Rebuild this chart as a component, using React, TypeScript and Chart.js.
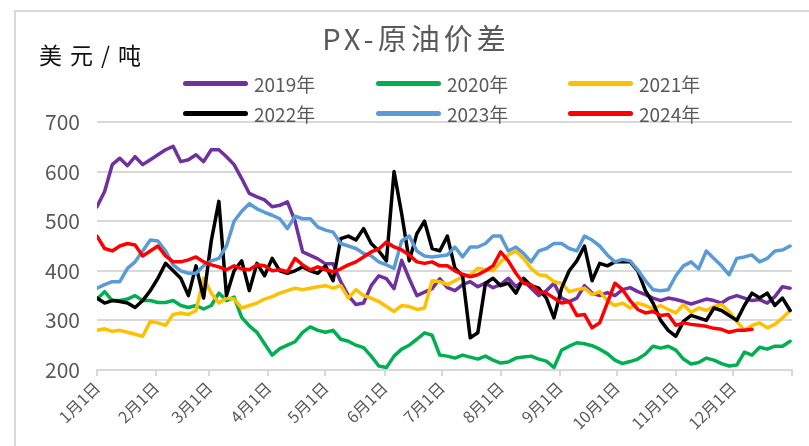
import React, { useEffect, useRef } from "react";
import { Chart, registerables } from "chart.js";

Chart.register(...registerables);

const FONT = "'Noto Sans CJK SC', 'Noto Sans', sans-serif";

const titleText = "PX-原油价差";
const unitText = "美元/吨";

const seriesNames = ["2019年", "2020年", "2021年", "2022年", "2023年", "2024年"];
const seriesColors = ["#7030A0", "#00B050", "#FFC000", "#000000", "#5B9BD5", "#FF0000"];

// x grid: day of year (every 4 days)
const sampleDays = Array.from({ length: 92 }, (_, i) => i * 4);

const monthTickDays = [0, 31, 59, 90, 120, 151, 181, 212, 243, 273, 304, 334, 365];
const monthTickLabels = ["1月1日", "2月1日", "3月1日", "4月1日", "5月1日", "6月1日", "7月1日", "8月1日", "9月1日", "10月1日", "11月1日", "12月1日", ""];

const yMin = 200;
const yMax = 700;
const yStep = 100;

const values2019 = [
  529, 560, 614, 627, 612, 630, 614, 624, 634, 644, 651, 620, 624, 634, 620,
  644, 644, 630, 614, 586, 556, 549, 543, 529, 532, 539, 500, 438, 431, 424, 414,
  414, 378, 350, 332, 335, 370, 390, 384, 364, 421, 384, 350, 357, 364, 384,
  366, 360, 372, 378, 368, 375, 366, 372, 385, 368, 380, 365, 350, 360, 375,
  345, 338, 345, 370, 355, 350, 356, 350, 362, 366, 358, 352, 345, 340,
  345, 342, 338, 333, 338, 343, 340, 335, 345, 350, 345, 340, 342, 335, 348, 368, 365,
];

const values2020 = [
  343, 358, 340, 340, 343, 350, 340, 340, 336, 336, 340, 330, 326, 330, 323,
  330, 355, 340, 347, 306, 289, 276, 253, 230, 243, 250, 257, 276, 287, 280, 276,
  280, 262, 258, 250, 245, 228, 208, 205, 228, 242, 250, 262, 275, 270, 230,
  228, 224, 230, 226, 222, 228, 220, 214, 216, 224, 226, 228, 222, 218, 205,
  240, 248, 255, 253, 249, 242, 233, 220, 213, 217, 222, 232, 248, 244,
  248, 240, 222, 212, 215, 224, 220, 213, 208, 210, 236, 230, 246, 242, 248, 248, 258,
];

const values2021 = [
  280, 283, 278, 280, 276, 272, 268, 298, 295, 290, 312, 315, 312, 320, 385,
  355, 335, 345, 343, 325, 330, 335, 343, 348, 355, 360, 365, 362, 365, 368, 370,
  365, 370, 345, 362, 350, 345, 338, 328, 318, 330, 328, 322, 325, 380, 378,
  372, 380, 388, 392, 405, 402, 400, 418, 432, 440, 425, 405, 392, 390, 378,
  375, 358, 362, 365, 352, 358, 340, 330, 335, 325, 335, 330, 323, 330,
  322, 315, 332, 316, 325, 320, 328, 332, 318, 298, 280, 290, 295, 285, 292, 305, 320,
];

const values2022 = [
  345, 335, 340, 338, 335, 326, 340, 360, 385, 415, 400, 385, 350, 410, 345,
  460, 540, 350, 400, 420, 360, 415, 390, 425, 400, 395, 400, 408, 400, 395, 410,
  380, 465, 470, 462, 485, 455, 440, 420, 600, 515, 420, 475, 500, 445, 440,
  470, 405, 390, 265, 275, 375, 385, 370, 375, 355, 385, 370, 365, 345, 305,
  365, 400, 420, 450, 380, 415, 410, 418, 418, 418, 400, 360, 335, 300,
  280, 268, 298, 310, 305, 300, 325, 320, 310, 300, 330, 355, 345, 355, 330, 345, 320,
];

const values2023 = [
  365, 372, 378, 378, 405, 418, 440, 462, 460, 440, 412, 400, 395, 395, 410,
  420, 425, 450, 500, 520, 535, 525, 518, 512, 505, 485, 510, 505, 505, 488, 482,
  478, 455, 450, 445, 435, 430, 418, 412, 405, 460, 470, 440, 430, 428, 430,
  432, 448, 428, 448, 448, 455, 470, 470, 440, 448, 435, 418, 440, 445, 455,
  455, 445, 440, 470, 462, 450, 432, 418, 423, 420, 402, 380, 362, 360,
  362, 390, 410, 418, 404, 440, 425, 410, 392, 425, 428, 432, 418, 425, 440, 442, 450,
];

const values2024 = [
  470, 445, 440, 450, 455, 452, 430, 440, 450, 430, 418, 418, 422, 428, 418,
  412, 408, 402, 410, 404, 402, 412, 410, 400, 402, 398, 425, 412, 402, 408, 402,
  398, 404, 412, 418, 428, 438, 444, 458, 448, 442, 432, 418, 415, 418, 410,
  410, 400, 393, 388, 392, 400, 410, 438, 420, 395, 375, 372, 358, 355, 345,
  335, 338, 310, 312, 285, 295, 335, 375, 362, 340, 322, 315, 318, 310,
  312, 290, 295, 292, 290, 288, 284, 282, 276, 280, 280, 282, null, null, null, null, null,
];

const seriesValues = [values2019, values2020, values2021, values2022, values2023, values2024];

export default function App() {
  const canvasRef = useRef<HTMLCanvasElement | null>(null);

  useEffect(() => {
    if (!canvasRef.current) return;
    const datasets = seriesValues.map((vals, i) => ({
      label: seriesNames[i],
      data: sampleDays.map((d, j) => ({ x: d, y: vals[j] })),
      borderColor: seriesColors[i],
      backgroundColor: seriesColors[i],
      borderWidth: 3.5,
      pointRadius: 0,
      tension: 0,
      borderJoinStyle: "round" as const,
      borderCapStyle: "round" as const,
      spanGaps: false,
      order: seriesValues.length - i,
    }));

    const chart = new Chart(canvasRef.current, {
      type: "line",
      data: { datasets },
      options: {
        animation: false,
        responsive: false,
        maintainAspectRatio: false,
        layout: { padding: { left: 0, right: 17, top: 122, bottom: 0 } },
        plugins: {
          legend: { display: false },
          tooltip: { enabled: false },
          title: { display: false },
        },
        scales: {
          x: {
            type: "linear",
            min: 0,
            max: 365,
            afterBuildTicks: (scale: any) => {
              scale.ticks = monthTickDays.map((v) => ({ value: v }));
            },
            afterFit: (scale: any) => {
              scale.height = 76;
            },
            ticks: {
              autoSkip: false,
              minRotation: 45,
              maxRotation: 45,
              color: "#595959",
              padding: 2,
              font: { size: 16, family: FONT },
              callback: (value: any) => {
                const idx = monthTickDays.indexOf(Number(value));
                return idx >= 0 ? monthTickLabels[idx] : "";
              },
            },
            grid: {
              display: true,
              drawOnChartArea: false,
              drawTicks: true,
              tickLength: 6,
              color: "#d9d9d9",
              lineWidth: 2,
            },
            border: { display: true, color: "#d9d9d9", width: 2 },
          },
          y: {
            min: yMin,
            max: yMax,
            afterFit: (scale: any) => {
              scale.width = 97;
            },
            ticks: {
              stepSize: yStep,
              color: "#595959",
              padding: 17,
              font: { size: 21, family: FONT },
            },
            grid: { color: "#d9d9d9", lineWidth: 2, drawTicks: false },
            border: { display: false },
          },
        },
      },
    });
    return () => chart.destroy();
  }, []);

  const legendCols = [183, 376, 568];
  const legendRows = [83, 113];

  return (
    <div
      style={{
        position: "fixed",
        left: 0,
        top: 0,
        width: 809,
        height: 446,
        overflow: "hidden",
        background: "#ffffff",
        fontFamily: FONT,
      }}
    >
      <div
        style={{
          position: "absolute",
          left: 14,
          top: 10,
          width: 900,
          height: 600,
          border: "2px solid #d9d9d9",
          boxSizing: "border-box",
        }}
      />
      <canvas
        ref={canvasRef}
        width={809}
        height={446}
        style={{ position: "absolute", left: 0, top: 0, width: 809, height: 446 }}
      />
      <div
        style={{
          position: "absolute",
          left: 0,
          width: 832,
          top: 21,
          textAlign: "center",
          fontSize: 29,
          lineHeight: "32px",
          color: "#595959",
          letterSpacing: 4,
          whiteSpace: "nowrap",
        }}
      >
        {titleText}
      </div>
      <div
        style={{
          position: "absolute",
          left: 39,
          top: 40,
          fontSize: 23,
          lineHeight: "28px",
          color: "#111111",
          letterSpacing: 8,
          whiteSpace: "nowrap",
        }}
      >
        {unitText}
      </div>
      {seriesNames.map((name, i) => {
        const col = i % 3;
        const row = Math.floor(i / 3);
        const lx = legendCols[col];
        const cy = legendRows[row];
        return (
          <React.Fragment key={name}>
            <div
              style={{
                position: "absolute",
                left: lx,
                top: cy - 2.5,
                width: 65,
                height: 5,
                borderRadius: 3,
                background: seriesColors[i],
              }}
            />
            <div
              style={{
                position: "absolute",
                left: lx + 71,
                top: cy - 12,
                fontSize: 19,
                lineHeight: "26px",
                color: "#595959",
                whiteSpace: "nowrap",
              }}
            >
              {name}
            </div>
          </React.Fragment>
        );
      })}
    </div>
  );
}
